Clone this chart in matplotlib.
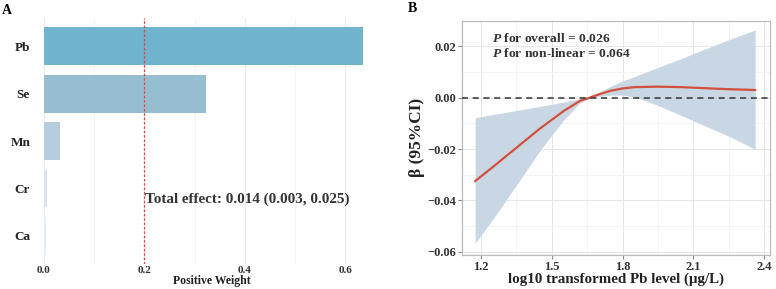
import matplotlib
matplotlib.use("Agg")
import matplotlib.pyplot as plt
import numpy as np
from matplotlib.ticker import MultipleLocator

plt.rcParams['font.family'] = ['Liberation Serif', 'DejaVu Serif']
plt.rcParams['font.weight'] = 'bold'
plt.rcParams['mathtext.fontset'] = 'custom'
plt.rcParams['mathtext.bfit'] = 'Liberation Serif:italic:bold'
plt.rcParams['mathtext.rm'] = 'Liberation Serif:bold'

# ---- Panel A data ----
metals = ["Pb", "Se", "Mn", "Cr", "Ca"]
weights = [0.635, 0.322, 0.031, 0.0066, 0.004]
bar_colors = ["#6fb3cf", "#97bdd0", "#b5cddf", "#d7e3f4", "#e0eef9"]
x_ticks_a = [0.0, 0.2, 0.4, 0.6]
ref_line = 0.2
effect_label = "Total effect: 0.014 (0.003, 0.025)"

# ---- Panel B data ----
pb_level = [1.175, 1.25, 1.35, 1.45, 1.55, 1.62, 1.66, 1.70, 1.75, 1.80, 1.85, 1.95, 2.05, 2.15, 2.25, 2.362]
beta = [-0.0325, -0.0270, -0.0195, -0.0120, -0.0052, -0.0012, 0.0000, 0.0013, 0.0027, 0.0036, 0.0041, 0.0043, 0.0041, 0.0037, 0.0033, 0.0030]
ci_upper = [-0.0078, -0.0066, -0.0050, -0.0034, -0.0017, -0.0004, 0.0002, 0.0022, 0.0045, 0.0065, 0.0082, 0.0118, 0.0153, 0.0190, 0.0226, 0.0264]
ci_lower = [-0.0567, -0.0474, -0.0340, -0.0206, -0.0087, -0.0020, -0.0002, 0.0005, 0.0010, 0.0010, 0.0003, -0.0030, -0.0070, -0.0110, -0.0150, -0.0201]
x_ticks_b = [1.2, 1.5, 1.8, 2.1, 2.4]
y_ticks_b = [-0.06, -0.04, -0.02, 0.00, 0.02]
p_overall = "0.026"
p_nonlinear = "0.064"

fig = plt.figure(figsize=(7.76, 2.89), dpi=100)

# ---------------- Panel A ----------------
axA = fig.add_axes([0.0567, 0.0848, 0.4317, 0.8546])
pos = np.arange(len(metals))[::-1]
axA.barh(pos, weights, height=0.8, color=bar_colors, zorder=2)
axA.set_xlim(0, 0.667)
axA.set_ylim(-0.6, 4.6)
axA.xaxis.set_minor_locator(MultipleLocator(0.1))
axA.set_xticks(x_ticks_a)
axA.set_xticklabels([f"{v:.1f}" for v in x_ticks_a], fontsize=8, fontweight='bold', color='#333333')
axA.set_yticks(pos)
axA.set_yticklabels(metals, fontsize=9.5, fontweight='bold', color='#222222')
axA.tick_params(axis='both', which='both', length=0)
axA.tick_params(axis='x', pad=1)
axA.tick_params(axis='y', pad=10)
axA.grid(axis='x', which='major', color='#ebebeb', linewidth=0.8, zorder=0)
axA.grid(axis='x', which='minor', color='#f3f3f3', linewidth=0.6, zorder=0)
axA.grid(axis='y', visible=False)
for s in axA.spines.values():
    s.set_visible(False)
axA.axvline(ref_line, color='#e8403a', linestyle=(0, (2, 1.5)), linewidth=0.9, zorder=3)
axA.text(0.2015, 0.78, effect_label, fontsize=10.9, fontweight='bold', color='#333333',
         ha='left', va='center', zorder=4)
axA.set_xlabel("Positive Weight", fontsize=8.5, fontweight='bold', color='#222222', labelpad=0)
fig.text(0.003, 0.965, "A", fontsize=10, fontweight='bold', ha='left', va='center')

# ---------------- Panel B ----------------
axB = fig.add_axes([0.595, 0.1176, 0.3973, 0.8108])
axB.fill_between(pb_level, ci_lower, ci_upper, color='#c9d7e5', linewidth=0, zorder=2)
axB.plot(pb_level, beta, color='#d2503c', linewidth=1.6, zorder=3)
axB.axhline(0, color='#333333', linestyle=(0, (4, 3)), linewidth=1.1, zorder=4)
axB.set_xlim(1.118, 2.425)
axB.set_ylim(-0.0613, 0.0300)
axB.set_xticks(x_ticks_b)
axB.set_xticklabels([f"{v:.1f}" for v in x_ticks_b], fontsize=9, fontweight='bold', color='#333333')
axB.set_yticks(y_ticks_b)
axB.set_yticklabels(["\u22120.06", "\u22120.04", "\u22120.02", "0.00", "0.02"],
                    fontsize=9, fontweight='bold', color='#333333')
axB.xaxis.set_minor_locator(MultipleLocator(0.15))
axB.yaxis.set_minor_locator(MultipleLocator(0.01))
axB.tick_params(axis='both', which='major', length=3, width=0.8, color='#888888', pad=1)
axB.tick_params(axis='both', which='minor', length=0)
axB.grid(which='major', color='#e6e6e6', linewidth=0.7, zorder=0)
axB.grid(which='minor', color='#f2f2f2', linewidth=0.6, zorder=0)
axB.set_axisbelow(True)
for s in axB.spines.values():
    s.set_color('#bbbbbb')
    s.set_linewidth(0.9)
axB.set_xlabel("log10 transformed Pb level (\u03bcg/L)", fontsize=10.8, fontweight='bold',
               color='#222222', labelpad=0)
axB.set_ylabel("\u03b2 (95%CI)", fontsize=12.5, fontweight='bold', color='#222222', labelpad=2)
axB.text(0.097, 0.922, r"$\mathbfit{P}$" + " for overall = " + p_overall, transform=axB.transAxes,
         fontsize=9.7, fontweight='bold', color='#333333', ha='left', va='center')
axB.text(0.097, 0.858, r"$\mathbfit{P}$" + " for non-linear = " + p_nonlinear, transform=axB.transAxes,
         fontsize=9.7, fontweight='bold', color='#333333', ha='left', va='center')
fig.text(0.526, 0.972, "B", fontsize=10, fontweight='bold', ha='left', va='center')

fig.savefig("out.png", dpi=100)
